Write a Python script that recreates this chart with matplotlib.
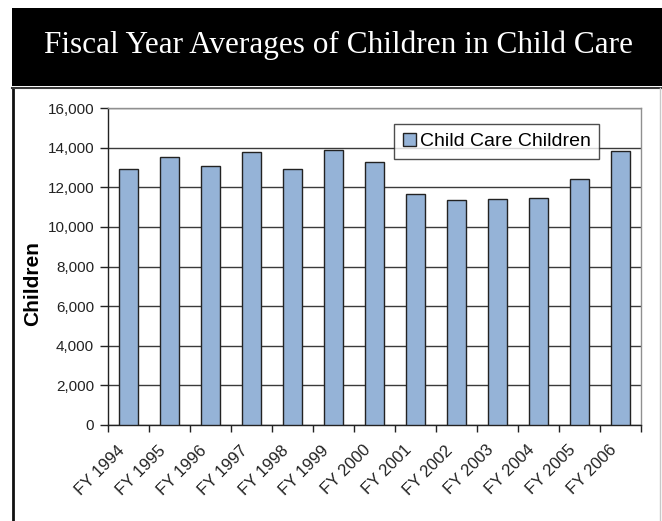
import numpy as np
import matplotlib.pyplot as plt
import matplotlib.transforms as mtransforms
from matplotlib.patches import Rectangle
from matplotlib.lines import Line2D
from matplotlib.ticker import FuncFormatter

# -----------------------------
# Data
# -----------------------------
years = ["FY 1994", "FY 1995", "FY 1996", "FY 1997", "FY 1998", "FY 1999", "FY 2000",
         "FY 2001", "FY 2002", "FY 2003", "FY 2004", "FY 2005", "FY 2006"]
children = [12930, 13530, 13080, 13780, 12930, 13880, 13280,
            11650, 11360, 11410, 11460, 12400, 13820]
series_name = "Child Care Children"
title = "Fiscal Year Averages of Children in Child Care"

bar_color = "#95B3D7"
edge_color = "#222222"

W, H = 662, 521
fig = plt.figure(figsize=(W / 100, H / 100), dpi=100)
fig.patch.set_facecolor("white")

# header band
fig.patches.append(Rectangle((12 / W, 1 - 86 / H), 1 - 12 / W, 78 / H,
                             transform=fig.transFigure, facecolor="black",
                             edgecolor="none", zorder=0))
fig.text(338 / W, 1 - 53 / H, title, color="white", ha="center", va="baseline",
         fontsize=22.5, family="Liberation Serif")

# panel border (left dark, top dark, right light)
fig.lines.append(Line2D([13 / W, 13 / W], [0, 1 - 88 / H], transform=fig.transFigure,
                        color="#111111", lw=2.0))
fig.lines.append(Line2D([12 / W, 1], [1 - 88 / H, 1 - 88 / H], transform=fig.transFigure,
                        color="#3a3a3a", lw=1.5))
fig.lines.append(Line2D([660 / W, 660 / W], [0, 1 - 88 / H], transform=fig.transFigure,
                        color="#c8c8c8", lw=1))

# -----------------------------
# Plot area
# -----------------------------
ax = fig.add_axes([108 / W, 1 - 425 / H, 533 / W, 317 / H])
x = np.arange(len(years))
ax.bar(x, children, width=0.44, color=bar_color, edgecolor=edge_color,
       linewidth=1, zorder=3, label=series_name)

ax.set_xlim(-0.5, len(years) - 0.5)
ax.set_ylim(0, 16000)
ax.set_yticks(np.arange(0, 16001, 2000))
ax.yaxis.set_major_formatter(FuncFormatter(lambda v, p: f"{int(v):,}"))
ax.grid(axis="y", color="#3a3a3a", lw=1, zorder=1)

# ticks between categories, labels at centres
ax.set_xticks(np.arange(-0.5, len(years), 1.0))
ax.set_xticklabels([])
ax.set_xticks(x, minor=True)
ax.set_xticklabels(years, minor=True, rotation=45, ha="right", va="top",
                   rotation_mode="anchor", fontsize=12, family="Liberation Sans")
ax.tick_params(axis="x", which="major", length=5, width=1, color="#222222", direction="out")
ax.tick_params(axis="x", which="minor", length=0, pad=4)
ax.tick_params(axis="y", length=6, width=1, color="#222222", pad=4,
               labelsize=11)

shift = mtransforms.ScaledTranslation(-12 / 100, -12 / 100, fig.dpi_scale_trans)
for lab in ax.get_xticklabels(minor=True):
    lab.set_color("#222222")
    lab.set_transform(lab.get_transform() + shift)
for lab in ax.get_yticklabels():
    lab.set_family("Liberation Sans")
    lab.set_color("#222222")

for side in ("left", "bottom"):
    ax.spines[side].set_color("#222222")
    ax.spines[side].set_linewidth(1)
for side in ("top", "right"):
    ax.spines[side].set_color("#909090")
    ax.spines[side].set_linewidth(1)

ax.set_ylabel("Children", fontsize=15, fontweight="bold", family="Liberation Sans")
ax.yaxis.set_label_coords(-0.124, 0.445)

leg = ax.legend(loc="upper left", bbox_to_anchor=(0.5366, 0.9495), frameon=True,
                fancybox=False, shadow=False,
                prop={"family": "Liberation Sans", "size": 14},
                handlelength=0.67, handleheight=0.67, handletextpad=0.2,
                borderpad=0.45, borderaxespad=0)
leg.get_frame().set_edgecolor("#222222")
leg.get_frame().set_linewidth(1)
leg.set_zorder(5)

fig.savefig("out.png", dpi=100, facecolor="white")
